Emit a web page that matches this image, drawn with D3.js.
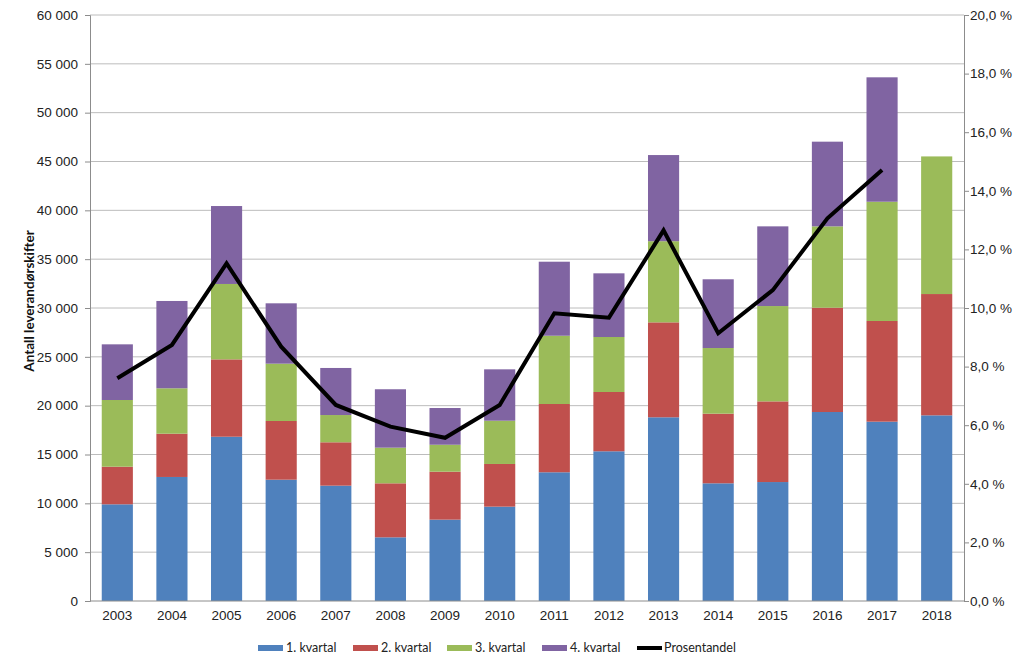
<!DOCTYPE html>
<html lang="no">
<head>
<meta charset="UTF-8">
<title>Leverandørskifter</title>
<script src="https://d3js.org/d3.v7.min.js"></script>
<style>
    body { margin: 0; background: #fff; }
    svg { font-family: Lato, "Open Sans", sans-serif; }
    .grid line { stroke: #bcbcbc; }
    .axis path, .axis line { stroke: #8c8c8c; }
    .axis text { fill: #222; font-size: 13.5px; }
</style>
</head>
<body>
<svg id="chart" width="1024" height="670"></svg>
<script>
    // values
    let years = ["2003","2004","2005","2006","2007","2008","2009","2010",
                 "2011","2012","2013","2014","2015","2016","2017","2018"];
    let q1 = [9900, 12700, 16820, 12420, 11810, 6520, 8330, 9660, 13180, 15330, 18810, 12050, 12180, 19350, 18360, 19010];
    let q2 = [3850, 4430, 7920, 6010, 4440, 5530, 4910, 4370, 6990, 6070, 9720, 7130, 8260, 10680, 10310, 12420];
    let q3 = [6830, 4650, 7720, 5870, 2790, 3650, 2760, 4430, 6990, 5630, 8310, 6720, 9760, 8330, 12210, 14090];
    let q4 = [5700, 8940, 7980, 6180, 4820, 5980, 3760, 5260, 7580, 6520, 8820, 7040, 8160, 8670, 12740, 0];
    let pct = [7.6, 8.74, 11.52, 8.68, 6.69, 5.95, 5.57, 6.69, 9.82, 9.67, 12.65, 9.14, 10.61, 13.06, 14.71, null];

    let seriesNames = ["1. kvartal", "2. kvartal", "3. kvartal", "4. kvartal"];
    let colors = ["#4f81bd", "#c0504d", "#9bbb59", "#8064a2"];

    let svg = d3.select("#chart");
    let plotL = 90, plotR = 964, plotT = 15, plotB = 601;

    let x = d3.scaleBand().domain(years).range([plotL, plotR]).paddingInner(0.43).paddingOuter(0.215);
    let y = d3.scaleLinear().domain([0, 60000]).range([plotB, plotT]);
    let y2 = d3.scaleLinear().domain([0, 20]).range([plotB, plotT]);

    // gridlines
    svg.append("g").attr("class", "grid")
        .selectAll("line")
        .data(y.ticks(12).filter(d => d > 0))
        .join("line")
        .attr("x1", plotL).attr("x2", plotR)
        .attr("y1", d => y(d)).attr("y2", d => y(d));

    // stacked bars
    let rows = years.map((yr, i) => ({year: yr, s0: q1[i], s1: q2[i], s2: q3[i], s3: q4[i]}));
    let stack = d3.stack().keys(["s0", "s1", "s2", "s3"])(rows);

    svg.append("g").selectAll("g")
        .data(stack)
        .join("g")
        .attr("fill", (d, i) => colors[i])
        .selectAll("rect")
        .data(d => d)
        .join("rect")
        .attr("x", d => x(d.data.year))
        .attr("width", x.bandwidth())
        .attr("y", d => y(d[1]))
        .attr("height", d => y(d[0]) - y(d[1]));

    // axes
    let fmtN = d => d === 0 ? "0" : d3.format(",")(d).replace(/,/g, " ");

    svg.append("g").attr("class", "axis")
        .attr("transform", `translate(${plotL},0)`)
        .call(d3.axisLeft(y).ticks(12).tickFormat(fmtN).tickSizeOuter(0).tickSize(5).tickPadding(7));

    svg.append("g").attr("class", "axis")
        .attr("transform", `translate(${plotR},0)`)
        .call(d3.axisRight(y2).ticks(10).tickFormat(d => d3.format(".1f")(d).replace(".", ",") + " %")
            .tickSizeOuter(0).tickSize(5).tickPadding(1));

    let xAxis = svg.append("g").attr("class", "axis")
        .attr("transform", `translate(0,${plotB})`)
        .call(d3.axisBottom(x).tickSize(0).tickSizeOuter(0).tickPadding(9));
    xAxis.select(".domain").attr("d", `M${plotL},0H${plotR}`);

    // line
    let line = d3.line()
        .defined(d => d.v !== null)
        .x(d => x(d.year) + x.bandwidth() / 2)
        .y(d => y2(d.v));

    svg.append("path")
        .datum(years.map((yr, i) => ({year: yr, v: pct[i]})))
        .attr("fill", "none")
        .attr("stroke", "#000")
        .attr("stroke-width", 4)
        .attr("stroke-linejoin", "miter")
        .attr("d", line);

    // axis title
    svg.append("text")
        .attr("transform", "translate(34,301) rotate(-90)")
        .attr("text-anchor", "middle")
        .attr("font-size", "13.5px")
        .attr("font-weight", "bold")
        .attr("fill", "#111")
        .text("Antall leverandørskifter");

    // legend
    let legendItems = seriesNames.map((n, i) => ({name: n, color: colors[i], type: "bar"}))
        .concat([{name: "Prosentandel", color: "#000", type: "line"}]);
    let legendX = [258, 353, 447, 542, 637];

    let lg = svg.append("g").selectAll("g")
        .data(legendItems)
        .join("g")
        .attr("transform", (d, i) => `translate(${legendX[i]},648)`);

    lg.append("rect")
        .attr("x", 0)
        .attr("width", 25)
        .attr("y", d => d.type === "bar" ? -3 : -2)
        .attr("height", d => d.type === "bar" ? 6 : 4)
        .attr("fill", d => d.color);

    lg.append("text")
        .attr("x", d => d.type === "bar" ? 28 : 27)
        .attr("dy", "0.35em")
        .attr("font-size", "12.5px")
        .attr("fill", "#222")
        .text(d => d.name);
</script>
</body>
</html>
